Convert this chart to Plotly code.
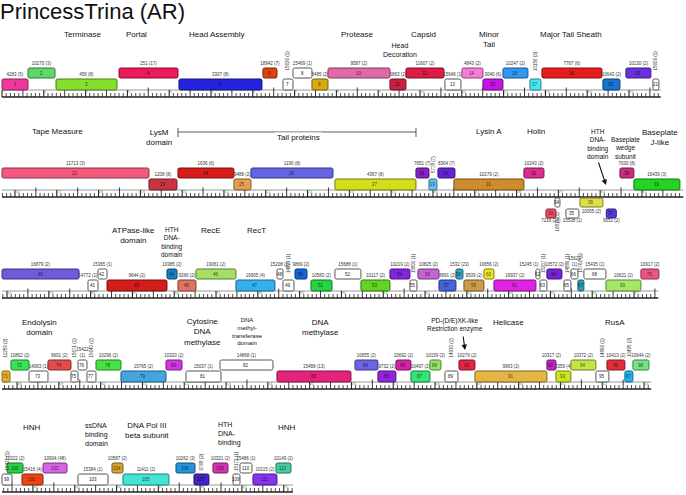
import plotly.graph_objects as go

# ---------------- data ----------------
TITLE = "PrincessTrina (AR)"

ROW_STARTS = [0, 15690, 31880, 47640, 63260]      # bp at the left end of each map row
ROW_LENGTHS = [15760, 16300, 15700, 15530, 6960]  # bp covered by each row's ruler

GENES = list(range(1, 113))

START = [
    0, 622, 1292, 2799, 4234, 6243, 6722, 6961, 7415, 7798,
    9281, 9664, 10597, 11003, 11506, 11984, 12630, 12917, 14376, 14926,
    15572,
    15690, 19206, 19900, 21239, 21646, 23655, 25593, 25904, 26119, 26502,
    28176, 28702, 28918, 29181, 29516, 30147, 30473, 30807,
    31880, 33937, 34176, 34392, 35827, 36090, 36520, 37477, 38458, 38602,
    38889, 39271, 39845, 40467, 41161, 41639, 41831, 42333, 42740, 42931,
    43409, 43649, 44653, 44749, 44916, 45323, 45490, 45658, 45801, 46328,
    47165,
    47640, 47855, 48286, 48740, 49290, 49458, 49673, 49888, 50486, 51563,
    52041, 52855, 54218, 56084, 56634, 57064, 57423, 57878, 58237, 58572,
    58954, 60676, 60892, 61250, 61848, 62112, 62542, 62733,
    63260, 63380, 63738, 64241, 65078, 65891, 66154, 67422, 67853, 68307,
    68786, 68953, 69264, 69814,
]

STOP = [
    622, 1268, 2751, 4210, 6219, 6578, 6961, 7415, 7798, 9281,
    9664, 10573, 10979, 11506, 11984, 12582, 12893, 14352, 14783, 15524,
    15715,
    19206, 19876, 21239, 21646, 23608, 25593, 25904, 26095, 26526, 28176,
    28655, 28942, 29038, 29492, 30066, 30386, 30807, 31908,
    33722, 34176, 34392, 35827, 36066, 36520, 37477, 38410, 38602, 38865,
    39176, 39774, 40467, 41161, 41639, 41807, 42333, 42740, 42907, 43409,
    43649, 44653, 44749, 44916, 45275, 45490, 45658, 45801, 46328, 47165,
    47595,
    47831, 48286, 48740, 49290, 49458, 49673, 49888, 50486, 51563, 51946,
    52879, 54123, 55988, 56634, 57064, 57423, 57878, 58141, 58548, 58954,
    60676, 60892, 61250, 61848, 62159, 62542, 62733, 63116,
    63499, 63762, 64241, 64815, 65796, 66154, 67255, 67877, 68211, 68666,
    68953, 69240, 69838, 70173,
]

# track: 2 = upper forward, 1 = lower forward, -1 / -2 = reverse tracks below the ruler
TRACK = [
    1, 2, 1, 2, 1, 2, 1, 2, 1, 2, 1, 2, 1, 2, 1, 2, 1, 2, 1, 2, 1,
    2, 1, 2, 1, 2, 1, 2, 1, 2, 1, 2, -2, -1, -2, -1, -2, 2, 1,
    2, 1, 2, 1, 2, 1, 2, 1, 2, 1, 2, 1, 2, 1, 2, 1, 2, 1, 2, 1,
    2, 1, 2, 1, 2, 1, 2, 1, 2, 1, 2,
    1, 2, 1, 2, 1, 2, 1, 2, 1, 2, 1, 2, 1, 2, 1, 2, 1, 2, 1, 2,
    1, 2, 1, 2, 1, 2, 1, 2,
    1, 2, 1, 2, 1, 2, 1, 2, 1, 2, 1, 2, 1, 2,
]

PHAM = [
    "4283 (5)", "10270 (3)", "456 (8)", "251 (17)", "3307 (8)", "18942 (7)", "15626 (1)",
    "15469 (1)", "8485 (2)", "9587 (2)", "5863 (2)", "11607 (2)", "15646 (1)", "4843 (2)",
    "3040 (6)", "10247 (2)", "10156 (2)", "7767 (6)", "10643 (2)", "10130 (2)", "15609 (1)",
    "11713 (3)", "1208 (8)", "1636 (6)", "9488 (2)", "1190 (8)", "4367 (8)", "7651 (7)",
    "5778 (7)", "8364 (7)", "10179 (2)", "10243 (2)", "7216 (27)", "16816 (1)", "15538 (1)",
    "10055 (2)", "9551 (2)", "7030 (8)", "16439 (3)",
    "16879 (2)", "14772 (1)", "15365 (1)", "9644 (2)", "10385 (2)", "9266 (2)", "19061 (2)",
    "16905 (4)", "15208 (1)", "14823 (1)", "9869 (2)", "10583 (2)", "15688 (1)", "10117 (2)",
    "10219 (2)", "15800 (1)", "10825 (2)", "8891 (2)", "1532 (23)", "9509 (2)", "10656 (2)",
    "16937 (2)", "15245 (1)", "15207 (1)", "10572 (2)", "14886 (1)", "15622 (1)", "15762 (1)",
    "15435 (1)", "10621 (2)", "10917 (2)",
    "11259 (2)", "10862 (2)", "14063 (1)", "9601 (2)", "15671 (1)", "15422 (1)", "15640 (1)",
    "10296 (2)", "15765 (2)", "10320 (2)", "15037 (1)", "14868 (1)", "15488 (13)", "10655 (2)",
    "9732 (2)", "10692 (2)", "10497 (2)", "10159 (2)", "14930 (1)", "10279 (2)", "9963 (2)",
    "10317 (2)", "3359 (4)", "10372 (2)", "14866 (1)", "10413 (2)", "10495 (2)", "10644 (2)",
    "15427 (1)", "10222 (2)", "15416 (4)", "10904 (48)", "15384 (1)", "10587 (2)", "11411 (2)",
    "10262 (3)", "9768 (2)", "10321 (2)", "15172 (1)", "15486 (1)", "10115 (2)", "10149 (2)",
]

ROTATED = {7, 17, 21, 29, 34, 49, 55, 63, 65, 67, 71, 75, 77, 89, 95, 97, 99, 107, 109}
WRAPPED = {66, 76}

FUNCTIONS = [  # text, centre x px, first-line centre y px, font size, anchor
    ("Terminase", 82, 34, 8, "center"), ("Portal", 136, 34, 8, "center"),
    ("Head Assembly", 217, 34, 8, "center"), ("Protease", 357, 34, 8, "center"),
    ("Head<br>Decoration", 400, 45, 7, "center"), ("Capsid", 423, 34, 8, "center"),
    ("Minor<br>Tail", 489, 34, 8, "center"), ("Major Tail Sheath", 571, 34, 8, "center"),
    ("Tape Measure", 57, 132, 8, "center"), ("LysM<br>domain", 159, 132, 8, "center"),
    ("Lysin A", 489, 132, 8, "center"), ("Holin", 536, 132, 8, "center"),
    ("HTH<br>DNA-<br>binding<br>domain", 598, 131, 6.5, "center"),
    ("Baseplate<br>wedge<br>subunit", 625, 140, 6.5, "center"),
    ("Baseplate<br>J-like", 660, 132, 8, "center"),
    ("ATPase-like<br>domain", 133, 230, 8, "center"),
    ("HTH<br>DNA-<br>binding<br>domain", 172, 229, 6.5, "center"),
    ("RecE", 211, 230, 8, "center"), ("RecT", 256, 230, 8, "center"),
    ("Endolysin<br>domain", 39, 322, 8, "center"),
    ("Cytosine<br>DNA<br>methylase", 202, 322, 8, "center"),
    ("DNA<br>methyl-<br>transferase<br>domain", 247, 320, 6, "center"),
    ("DNA<br>methylase", 320, 322, 8, "center"),
    ("PD-(D/E)XK-like<br>Restriction enzyme", 455, 321, 6.5, "center"),
    ("Helicase", 509, 322, 8, "center"), ("RusA", 615, 322, 8, "center"),
    ("HNH", 32, 427, 8, "center"),
    ("ssDNA<br>binding<br>domain", 83, 425, 7, "left"),
    ("DNA Pol III<br>beta subunit", 147, 425, 8, "center"),
    ("HTH<br>DNA-<br>binding", 216, 425, 7, "left"),
    ("HNH", 287, 427, 8, "center"),
]

COLORS = [
    "#f0389c", "#5fd86a", "#84e02c", "#ec1a5c", "#2323e0", "#e0420e", "white", "white",
    "#d6aa10", "#e06aa8", "#cc2040", "#dc1c44", "white", "#f47ed6", "#c414e6", "#3296f4",
    "#46e6f0", "#e81c1c", "#1474d0", "#6a30dc", "white",
    "#f4587c", "#c83444", "#d81c1c", "#e4a050", "#6464e4", "#d4dc1c", "#8424c8", "#64c4f0",
    "#6424d4", "#d08c2c", "#dc2c90", "#ec4c64", "white", "white", "#dce044", "#5838e0",
    "#cc2c7c", "#24d424",
    "#6c5cdc", "white", "white", "#d41c1c", "#1480c4", "#dc7460", "#a4e064", "#34b0f0",
    "white", "white", "#1464dc", "#24d444", "white", "#64d424", "#8424dc", "white",
    "#c464d4", "#4464dc", "#34a4c4", "#cc9c4c", "#f0e424", "#e024e4", "white", "white",
    "#7424d4", "white", "white", "#24a4b4", "white", "#a4e864", "#ec5484",
    "#e4b424", "#34e454", "white", "#e44c4c", "white", "white", "white", "#44e444",
    "#44a4dc", "#d434e4", "white", "white", "#e4247c", "#6c64e4", "#9424dc", "#d424a4",
    "#34e474", "#94e464", "white", "#e42444", "#e4b444", "#c424c4", "#cce424", "#c4e444",
    "white", "#e42c3c", "#24b4f4", "#74e484",
    "white", "#24d444", "#ec4414", "#d464e4", "white", "#d4a434", "#44e4d4", "#2494dc",
    "#4424c4", "#d434b4", "white", "white", "#8434ec", "#44cca4",
]

# ---------------- layout constants ----------------
W, H = 686, 495
PX_PER_KB = 41.8
X0_PX = 2.0
BP_PER_PX = 1000.0 / PX_PER_KB
RULER_Y = [90, 190, 291, 382, 485]
ROT_BOTTOM = [-17.5, -15.5, -16.5, -23, -12.5]   # where rotated labels start, per row (px above ruler)
TRACK_BOX = {2: (-22, -12), 1: (-11, 0), -1: (8, 17), -2: (19, 28)}
PHAM_Y = {2: -26.5, 1: -15.5, -1: 21.5, -2: 31}
LABEL_SHIFT_PX = {41: -5, 62: -9}   # label nudges (pixels) to avoid collisions
FONT = "Liberation Sans, Arial, sans-serif"


def shade(c, f):
    if c == "white":
        return "#555555"
    c = c.lstrip("#")
    r, g, b = int(c[0:2], 16), int(c[2:4], 16), int(c[4:6], 16)
    return "#%02x%02x%02x" % (int(r * f), int(g * f), int(b * f))


def px(x):
    return x / W


def py(y):
    return 1 - y / H


fig = go.Figure()
shapes = []
annotations = []

# ---------------- rulers ----------------
tick_x = {"major": [], "mid": [], "minor": []}
tick_y = {"major": [], "mid": [], "minor": []}
lab_x, lab_y, lab_t = [], [], []
line_top_x, line_top_y, line_bot_x, line_bot_y = [], [], [], []
for r, (rs, rl) in enumerate(zip(ROW_STARTS, ROW_LENGTHS)):
    R = RULER_Y[r]
    line_top_x += [0, rl, None]
    line_top_y += [R, R, None]
    line_bot_x += [0, rl, None]
    line_bot_y += [R + 7, R + 7, None]
    k0 = -(-rs // 100)
    k1 = (rs + rl) // 100
    for k in range(k0, k1 + 1):
        lx = k * 100 - rs
        if k % 10 == 0:
            kind, y0 = "major", R
            if lx < rl - 150:
                lab_x.append(lx)
                lab_y.append(R + 2.3)
                lab_t.append(str(k // 10))
        elif k % 5 == 0:
            kind, y0 = "mid", R - 2.5
        else:
            kind, y0 = "minor", R + 3
        tick_x[kind] += [lx, lx, None]
        tick_y[kind] += [y0, R + 7, None]

fig.add_trace(go.Scatter(x=line_top_x, y=line_top_y, mode="lines",
                         line=dict(color="#9a9a9a", width=1), hoverinfo="skip"))
fig.add_trace(go.Scatter(x=line_bot_x, y=line_bot_y, mode="lines",
                         line=dict(color="#222222", width=1.3), hoverinfo="skip"))
for kind, wdt in (("major", 1.1), ("mid", 0.9), ("minor", 0.8)):
    fig.add_trace(go.Scatter(x=tick_x[kind], y=tick_y[kind], mode="lines",
                             line=dict(color="#222222", width=wdt), hoverinfo="skip"))
fig.add_trace(go.Scatter(x=lab_x, y=lab_y, mode="text", text=lab_t, textposition="middle right",
                         textfont=dict(size=4, color="#55aa55", family=FONT), hoverinfo="skip"))

# ---------------- genes ----------------
pham_x, pham_y, pham_t = [], [], []
rx = 1.6 * BP_PER_PX
ry = 1.6
for g, s, e, tr, ph, col in zip(GENES, START, STOP, TRACK, PHAM, COLORS):
    r = max(i for i, rs in enumerate(ROW_STARTS) if rs <= s)
    R = RULER_Y[r]
    x0, x1 = s - ROW_STARTS[r], e - ROW_STARTS[r]
    y0, y1 = R + TRACK_BOX[tr][0], R + TRACK_BOX[tr][1]
    path = (f"M {x0+rx},{y0} L {x1-rx},{y0} Q {x1},{y0} {x1},{y0+ry} L {x1},{y1-ry} "
            f"Q {x1},{y1} {x1-rx},{y1} L {x0+rx},{y1} Q {x0},{y1} {x0},{y1-ry} "
            f"L {x0},{y0+ry} Q {x0},{y0} {x0+rx},{y0} Z")
    shapes.append(dict(type="path", path=path, xref="x", yref="y", layer="above",
                       fillcolor=col, line=dict(color=shade(col, 0.55), width=1)))
    xc = (x0 + x1) / 2
    annotations.append(dict(x=xc, y=(y0 + y1) / 2, xref="x", yref="y", text=str(g),
                            showarrow=False, font=dict(size=4.5, family=FONT,
                                                       color="#222222" if col == "white" else shade(col, 0.35))))
    if g in ROTATED:
        if tr > 0:
            annotations.append(dict(x=xc, y=R + ROT_BOTTOM[r], xref="x", yref="y", text=ph,
                                    textangle=-90, showarrow=False, yanchor="bottom",
                                    font=dict(size=4.5, family=FONT, color="#333333")))
        else:
            annotations.append(dict(x=xc, y=y1 + 2, xref="x", yref="y", text=ph, textangle=-90,
                                    showarrow=False, yanchor="top",
                                    font=dict(size=4.5, family=FONT, color="#333333")))
    else:
        pham_x.append(xc + LABEL_SHIFT_PX.get(g, 0) * BP_PER_PX)
        yy = R + PHAM_Y[tr]
        if g in WRAPPED:
            pham_t.append(ph.replace(" ", "<br>"))
            yy -= 2.5
        else:
            pham_t.append(ph)
        pham_y.append(yy)

fig.add_trace(go.Scatter(x=pham_x, y=pham_y, mode="text", text=pham_t, textposition="middle center",
                         textfont=dict(size=4.5, color="#333333", family=FONT), hoverinfo="skip"))

# ---------------- function labels ----------------
for text, x, y, size, anchor in FUNCTIONS:
    n = text.count("<br>") + 1
    ymid = y + (n - 1) * 1.3 * size / 2
    annotations.append(dict(x=px(x), y=py(ymid), xref="paper", yref="paper", text=text,
                            showarrow=False, xanchor=anchor, yanchor="middle", align=anchor,
                            font=dict(size=size, family=FONT, color="#111111")))

# tail proteins bracket
for (xa, ya, xb, yb) in ((178, 132, 416, 132), (178, 128, 178, 137), (416, 128, 416, 137)):
    shapes.append(dict(type="line", xref="paper", yref="paper", x0=px(xa), y0=py(ya),
                       x1=px(xb), y1=py(yb), line=dict(color="#333333", width=0.8)))
annotations.append(dict(x=px(298), y=py(132), xref="paper", yref="paper", text=" Tail proteins ",
                        showarrow=False, bgcolor="white", borderpad=0,
                        font=dict(size=8, family=FONT, color="#111111")))

# arrows
for (hx, hy, tx, ty) in ((606, 185, 598, 161), (465, 350, 463, 335)):
    annotations.append(dict(x=px(hx), y=py(hy), xref="paper", yref="paper", text="",
                            showarrow=True, ax=tx - hx, ay=ty - hy, arrowhead=2,
                            arrowsize=1, arrowwidth=1.1, arrowcolor="#111111"))

fig.update_layout(
    width=W, height=H, autosize=False,
    margin=dict(l=0, r=0, t=0, b=0, pad=0),
    paper_bgcolor="white", plot_bgcolor="white", showlegend=False,
    title=dict(text=TITLE, x=0.0, xref="container", xanchor="left",
               y=py(11), yref="container", yanchor="middle", pad=dict(l=0, r=0, t=0, b=0),
               font=dict(size=22, family=FONT, color="#111111")),
    xaxis=dict(range=[-X0_PX * BP_PER_PX, (W - X0_PX) * BP_PER_PX], visible=False, fixedrange=True),
    yaxis=dict(range=[H, 0], visible=False, fixedrange=True),
    hovermode=False, dragmode=False,
    shapes=shapes, annotations=annotations,
)

POST = (
    "document.body.style.margin='0';"
    "document.body.style.overflow='hidden';"
    "var st=document.createElement('style');"
    "st.textContent='*{user-select:none!important;-webkit-user-select:none!important;}"
    " svg text{pointer-events:none!important;}';"
    "document.head.appendChild(st);"
)
fig.write_html("out.html", config={"displayModeBar": False}, post_script=POST)
